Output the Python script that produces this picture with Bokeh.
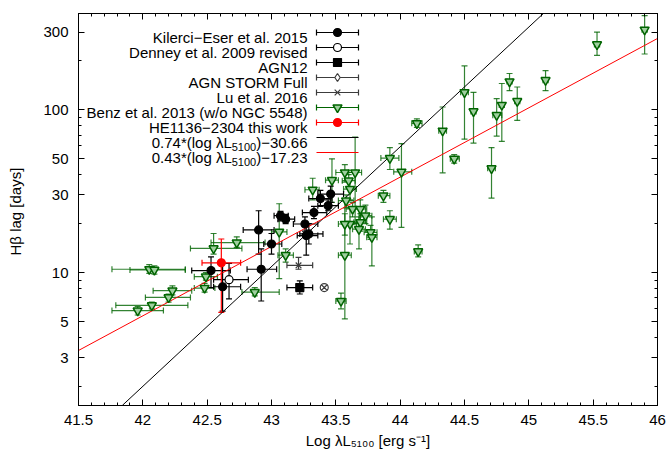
from bokeh.plotting import figure
from bokeh.models import (ColumnDataSource, Whisker, TeeHead, Range1d, LinearScale,
                          Label, FixedTicker, LinearAxis, LogAxis)
from bokeh.embed import file_html
from bokeh.resources import INLINE

# ---------------- data ----------------
# Kilerci-Eser et al. 2015
k_x   = [42.53, 42.62, 42.92, 42.90, 43.00, 43.07, 43.11, 43.26, 43.27, 43.29, 43.33, 43.38, 43.46, 43.44]
k_y   = [10.3, 8.2, 10.5, 18.3, 15.0, 22.4, 21.3, 19.9, 16.9, 17.3, 23.4, 28.5, 30.4, 25.8]
k_xlo = [42.38, 42.55, 42.81, 42.78, 42.94, 43.02, 43.05, 43.17, 43.20, 43.22, 43.24, 43.29, 43.36, 43.36]
k_xhi = [42.68, 42.76, 43.04, 43.02, 43.08, 43.13, 43.18, 43.36, 43.36, 43.40, 43.43, 43.47, 43.56, 43.52]
k_ylo = [8.1, 5.8, 6.7, 13.0, 13.0, 20.8, 20.0, 18.0, 12.8, 15.0, 21.5, 25.5, 27.0, 24.0]
k_yhi = [12.5, 11.4, 14.0, 24.0, 17.4, 23.8, 22.8, 22.0, 19.5, 20.0, 25.5, 32.0, 34.0, 28.0]

# Denney et al. 2009 revised
d_x, d_y = [42.67], [9.06]
d_xlo, d_xhi, d_ylo, d_yhi = [42.55], [42.82], [6.9], [11.4]

# AGN12
a_x, a_y = [43.22], [8.1]
a_xlo, a_xhi, a_ylo, a_yhi = [43.12], [43.32], [7.4], [8.9]

# AGN STORM Full
s_x, s_y = [43.41], [8.1]
s_xlo, s_xhi, s_ylo, s_yhi = [43.39], [43.43], [7.8], [8.4]

# Lu et al. 2016
l_x, l_y = [43.21], [11.1]
l_xlo, l_xhi, l_ylo, l_yhi = [43.12], [43.32], [10.5], [12.4]

# Benz et al. 2013 (w/o NGC 5548)
b_x   = [42.05, 42.09, 41.96, 42.07, 42.20, 42.23, 42.48, 42.49, 42.55, 42.73, 42.87, 43.06, 43.11,
         43.32, 43.47, 43.57, 43.65, 43.57, 43.54, 43.60, 43.61, 43.58, 43.61, 43.69, 43.68, 43.73,
         43.77, 43.78, 43.63, 43.69, 43.57, 43.87, 43.92, 43.92, 44.01, 44.13, 44.14, 44.33, 44.42,
         44.50, 44.57, 44.71, 44.75, 44.79, 44.85, 44.91, 45.13, 45.53, 45.90]
b_y   = [10.5, 10.4, 5.85, 6.3, 7.05, 7.75, 8.05, 9.45, 14.1, 15.3, 7.6, 17.8, 12.8,
         32.3, 37.0, 41.2, 41.2, 12.8, 6.7, 36.7, 32.6, 27.7, 19.9, 20.4, 18.5, 22.4,
         17.7, 16.5, 24.6, 24.6, 19.9, 29.7, 21.3, 50.5, 41.6, 82.6, 13.5, 74.3, 50.0,
         128.0, 97.7, 43.7, 92.7, 107.0, 149.0, 113.0, 152.0, 252.0, 310.0]
b_xlo = [41.76, 41.90, 41.76, 41.79, 42.02, 42.08, 42.40, 42.40, 42.37, 42.53, 42.77, 43.00, 43.05,
         43.26, 43.42, 43.50, 43.60, 43.52, 43.50, 43.55, 43.56, 43.52, 43.56, 43.64, 43.63, 43.68,
         43.72, 43.74, 43.58, 43.64, 43.52, 43.83, 43.87, 43.85, 43.95, 44.09, 44.11, 44.30, 44.39,
         44.47, 44.55, 44.68, 44.72, 44.77, 44.83, 44.89, 45.11, 45.51, 45.88]
b_xhi = [42.33, 42.33, 42.16, 42.35, 42.37, 42.38, 42.56, 42.58, 42.77, 42.95, 43.06, 43.12, 43.17,
         43.37, 43.52, 43.66, 43.70, 43.62, 43.58, 43.65, 43.66, 43.64, 43.66, 43.74, 43.73, 43.78,
         43.82, 43.82, 43.68, 43.74, 43.62, 43.92, 43.97, 43.99, 44.09, 44.17, 44.17, 44.36, 44.46,
         44.53, 44.59, 44.74, 44.79, 44.81, 44.87, 44.93, 45.15, 45.55, 45.92]
b_ylo = [9.9, 9.8, 5.5, 6.0, 6.6, 7.3, 7.6, 9.0, 13.0, 14.3, 7.2, 9.2, 11.6,
         28.0, 27.0, 36.0, 20.0, 5.2, 6.0, 33.0, 28.0, 25.0, 15.0, 18.0, 14.0, 20.0,
         16.0, 11.0, 22.0, 21.0, 17.0, 27.0, 18.5, 43.0, 19.0, 78.0, 12.5, 41.0, 47.0,
         66.0, 62.5, 28.7, 69.0, 64.0, 131.0, 86.0, 131.0, 216.0, 220.0]
b_yhi = [11.2, 11.0, 6.2, 6.6, 7.4, 8.3, 8.6, 10.0, 17.4, 16.6, 8.1, 26.5, 14.0,
         38.0, 50.0, 46.0, 68.0, 27.6, 7.5, 40.0, 37.0, 30.0, 25.0, 23.0, 22.0, 26.0,
         19.5, 22.0, 27.0, 28.0, 23.0, 32.0, 24.0, 58.6, 62.0, 88.0, 14.8, 104.0, 53.0,
         186.0, 128.0, 58.6, 117.0, 145.0, 167.0, 138.0, 174.0, 300.0, 378.0]

# HE1136-2304 this work
h_x, h_y = [42.61], [11.5]
h_xlo, h_xhi, h_ylo, h_yhi = [42.46], [42.76], [5.7], [16.1]

# fitted relations (end points)
black_x = [41.84, 45.11]
black_y = [1.53, 388.0]
red_x = [41.5, 46.0]
red_y = [3.33, 274.0]

x_ticks = [41.5, 42.0, 42.5, 43.0, 43.5, 44.0, 44.5, 45.0, 45.5, 46.0]
x_tick_labels = ["41.5", "42", "42.5", "43", "43.5", "44", "44.5", "45", "45.5", "46"]
x_minor = [41.5 + 0.1 * i for i in range(46)]
y_ticks = [3, 5, 10, 30, 50, 100, 300]
y_tick_labels = ["3", "5", "10", "30", "50", "100", "300"]
y_minor = [2, 4, 6, 7, 8, 9, 20, 40, 60, 70, 80, 90, 200]

x_title = "Log \u03bbL\u2085\u2081\u2080\u2080 [erg s\u207b\u00b9]"
y_title = "H\u03b2 lag  [days]"

legend_labels = ["Kilerci\u2212Eser et al. 2015", "Denney et al. 2009 revised", "AGN12",
                 "AGN STORM Full", "Lu et al. 2016", "Benz et al. 2013 (w/o NGC 5548)",
                 "HE1136\u22122304 this work"]
fit_labels = [("0.74*(log \u03bbL", "5100", ")\u221230.66"),
              ("0.43*(log \u03bbL", "5100", ")\u221217.23")]

# ---------------- figure ----------------
W, H = 668, 455
L, R, T, B = 78, 11, 13, 50
FONT = "Liberation Sans"
FS = 15

p = figure(width=W, height=H, x_range=(41.5, 46.0), y_range=(1.53, 390.0),
           y_axis_type="log", output_backend="svg", toolbar_location=None,
           min_border_left=L, min_border_right=R, min_border_top=T, min_border_bottom=B)
p.grid.visible = False
p.outline_line_color = "black"
p.outline_line_width = 1
p.background_fill_color = "white"
p.border_fill_color = "white"

xt = FixedTicker(ticks=x_ticks, minor_ticks=x_minor)
yt = FixedTicker(ticks=y_ticks, minor_ticks=y_minor)

def style_axis(ax, ticker, labels, show):
    ax.ticker = ticker
    ax.axis_line_color = "black"
    ax.major_tick_line_color = "black"
    ax.minor_tick_line_color = "black"
    ax.major_tick_in = 6
    ax.major_tick_out = 0
    ax.minor_tick_in = 3
    ax.minor_tick_out = 0
    ax.major_label_text_font = FONT
    ax.major_label_text_font_size = f"{FS}px"
    ax.major_label_text_color = "black"
    if show:
        ax.major_label_overrides = {float(t): s for t, s in zip(ticker.ticks, labels)}
    else:
        ax.major_label_overrides = {float(t): "" for t in ticker.ticks}

xa = p.xaxis[0]
style_axis(xa, xt, x_tick_labels, True)
xa.major_label_standoff = 9
xa.axis_label = x_title
xa.axis_label_standoff = 4
xa.axis_label_text_font = FONT
xa.axis_label_text_font_size = f"{FS}px"
xa.axis_label_text_font_style = "normal"
xa.axis_label_text_color = "black"

ya = p.yaxis[0]
style_axis(ya, yt, y_tick_labels, True)
ya.major_label_standoff = 10
ya.axis_label = y_title
ya.axis_label_standoff = 16
ya.axis_label_text_font = FONT
ya.axis_label_text_font_size = f"{FS}px"
ya.axis_label_text_font_style = "normal"
ya.axis_label_text_color = "black"

top = LinearAxis()
style_axis(top, xt, x_tick_labels, False)
p.add_layout(top, "above")
right = LogAxis()
style_axis(right, yt, y_tick_labels, False)
p.add_layout(right, "right")

# canvas pixel coordinates (y downward) for the legend inside the frame
p.extra_x_ranges = {"cx": Range1d(L, W - R)}
p.extra_y_ranges = {"cy": Range1d(H - B, T)}
p.extra_y_scales = {"cy": LinearScale()}

# ---------------- fit lines ----------------
p.line(black_x, black_y, line_color="black", line_width=1)
p.line(red_x, red_y, line_color="red", line_width=1)

GREEN = "#006400"
GRAY = "#3c3c3c"

def add_series(x, y, xlo, xhi, ylo, yhi, color, marker, size, fill, alpha=1.0, lw=1.2, mlw=1.2):
    src = ColumnDataSource(dict(x=x, y=y, xlo=xlo, xhi=xhi, ylo=ylo, yhi=yhi))
    def head():
        return TeeHead(size=6, line_color=color, line_alpha=alpha, line_width=lw)
    wx = Whisker(source=src, base="y", lower="xlo", upper="xhi", dimension="width",
                 line_color=color, line_alpha=alpha, line_width=lw,
                 upper_head=head(), lower_head=head())
    wy = Whisker(source=src, base="x", lower="ylo", upper="yhi", dimension="height",
                 line_color=color, line_alpha=alpha, line_width=lw,
                 upper_head=head(), lower_head=head())
    p.add_layout(wx)
    p.add_layout(wy)
    p.scatter("x", "y", source=src, marker=marker, size=size, line_color=color,
              fill_color=fill, line_width=mlw)

add_series(b_x, b_y, b_xlo, b_xhi, b_ylo, b_yhi, GREEN, "inverted_triangle", 9, "#9fcf9f", alpha=0.8, mlw=1.5)
add_series(k_x, k_y, k_xlo, k_xhi, k_ylo, k_yhi, "black", "circle", 8, "black")
add_series(d_x, d_y, d_xlo, d_xhi, d_ylo, d_yhi, "black", "circle", 8, "white")
add_series(a_x, a_y, a_xlo, a_xhi, a_ylo, a_yhi, "black", "square", 8, "black")
add_series(s_x, s_y, s_xlo, s_xhi, s_ylo, s_yhi, GRAY, "circle_x", 8, "white")
add_series(l_x, l_y, l_xlo, l_xhi, l_ylo, l_yhi, GRAY, "x", 8, None)
add_series(h_x, h_y, h_xlo, h_xhi, h_ylo, h_yhi, "red", "circle", 8, "red")

# ---------------- legend (drawn by hand: text right, sample left) ----------------
TX = 307          # right edge of legend text
SX0, SX1 = 316, 358
SXM = (SX0 + SX1) / 2
ROW0, DY = 32, 15
styles = [("black", "circle", "black"), ("black", "circle", "white"), ("black", "square", "black"),
          (GRAY, "diamond", "white"), (GRAY, "x", None), (GREEN, "inverted_triangle", "#9fcf9f"),
          ("red", "circle", "red")]

for i, (lab, (col, mk, fill)) in enumerate(zip(legend_labels, styles)):
    yc = ROW0 + DY * i
    p.add_layout(Label(x=TX, y=yc + 5.3, x_range_name="cx", y_range_name="cy", text=lab,
                       text_align="right", text_baseline="alphabetic", text_font=FONT,
                       text_font_size=f"{FS}px", text_color="black"))
    p.segment(x0=[SX0], y0=[yc], x1=[SX1], y1=[yc], x_range_name="cx", y_range_name="cy",
              line_color=col, line_width=1.2)
    p.segment(x0=[SX0, SX1], y0=[yc - 3, yc - 3], x1=[SX0, SX1], y1=[yc + 3, yc + 3],
              x_range_name="cx", y_range_name="cy", line_color=col, line_width=1.2)
    p.scatter(x=[SXM], y=[yc], x_range_name="cx", y_range_name="cy", marker=mk,
              size=8 if mk != "inverted_triangle" else 9, line_color=col, fill_color=fill,
              line_width=1.2 if mk != "inverted_triangle" else 1.5)

# fit entries with subscripts
SUB = 11
WID = {"0": 556, "1": 556, "2": 556, "3": 556, "4": 556, "5": 556, "6": 556, "7": 556,
       "8": 556, "9": 556, ".": 278, "*": 389, "(": 333, ")": 333, "l": 222, "o": 556,
       "g": 556, " ": 278, "\u03bb": 500, "L": 556, "\u2212": 584}
def tw(s, fs):
    return sum(WID.get(c, 556) for c in s) / 1000.0 * fs

for j, ((a, sub, c), col) in enumerate(zip(fit_labels, ["black", "red"])):
    yc = ROW0 + DY * (7 + j)
    wc = tw(c, FS)
    ws = tw(sub, SUB)
    for txt, xr, yy, fs in [(c, TX, yc + 5.3, FS), (sub, TX - wc, yc + 9, SUB),
                            (a, TX - wc - ws, yc + 5.3, FS)]:
        p.add_layout(Label(x=xr, y=yy, x_range_name="cx", y_range_name="cy", text=txt,
                           text_align="right", text_baseline="alphabetic", text_font=FONT,
                           text_font_size=f"{fs}px", text_color="black"))
    p.segment(x0=[SX0], y0=[yc], x1=[SX1], y1=[yc], x_range_name="cx", y_range_name="cy",
              line_color=col, line_width=1)

open("out.html", "w").write(file_html(p, INLINE))
